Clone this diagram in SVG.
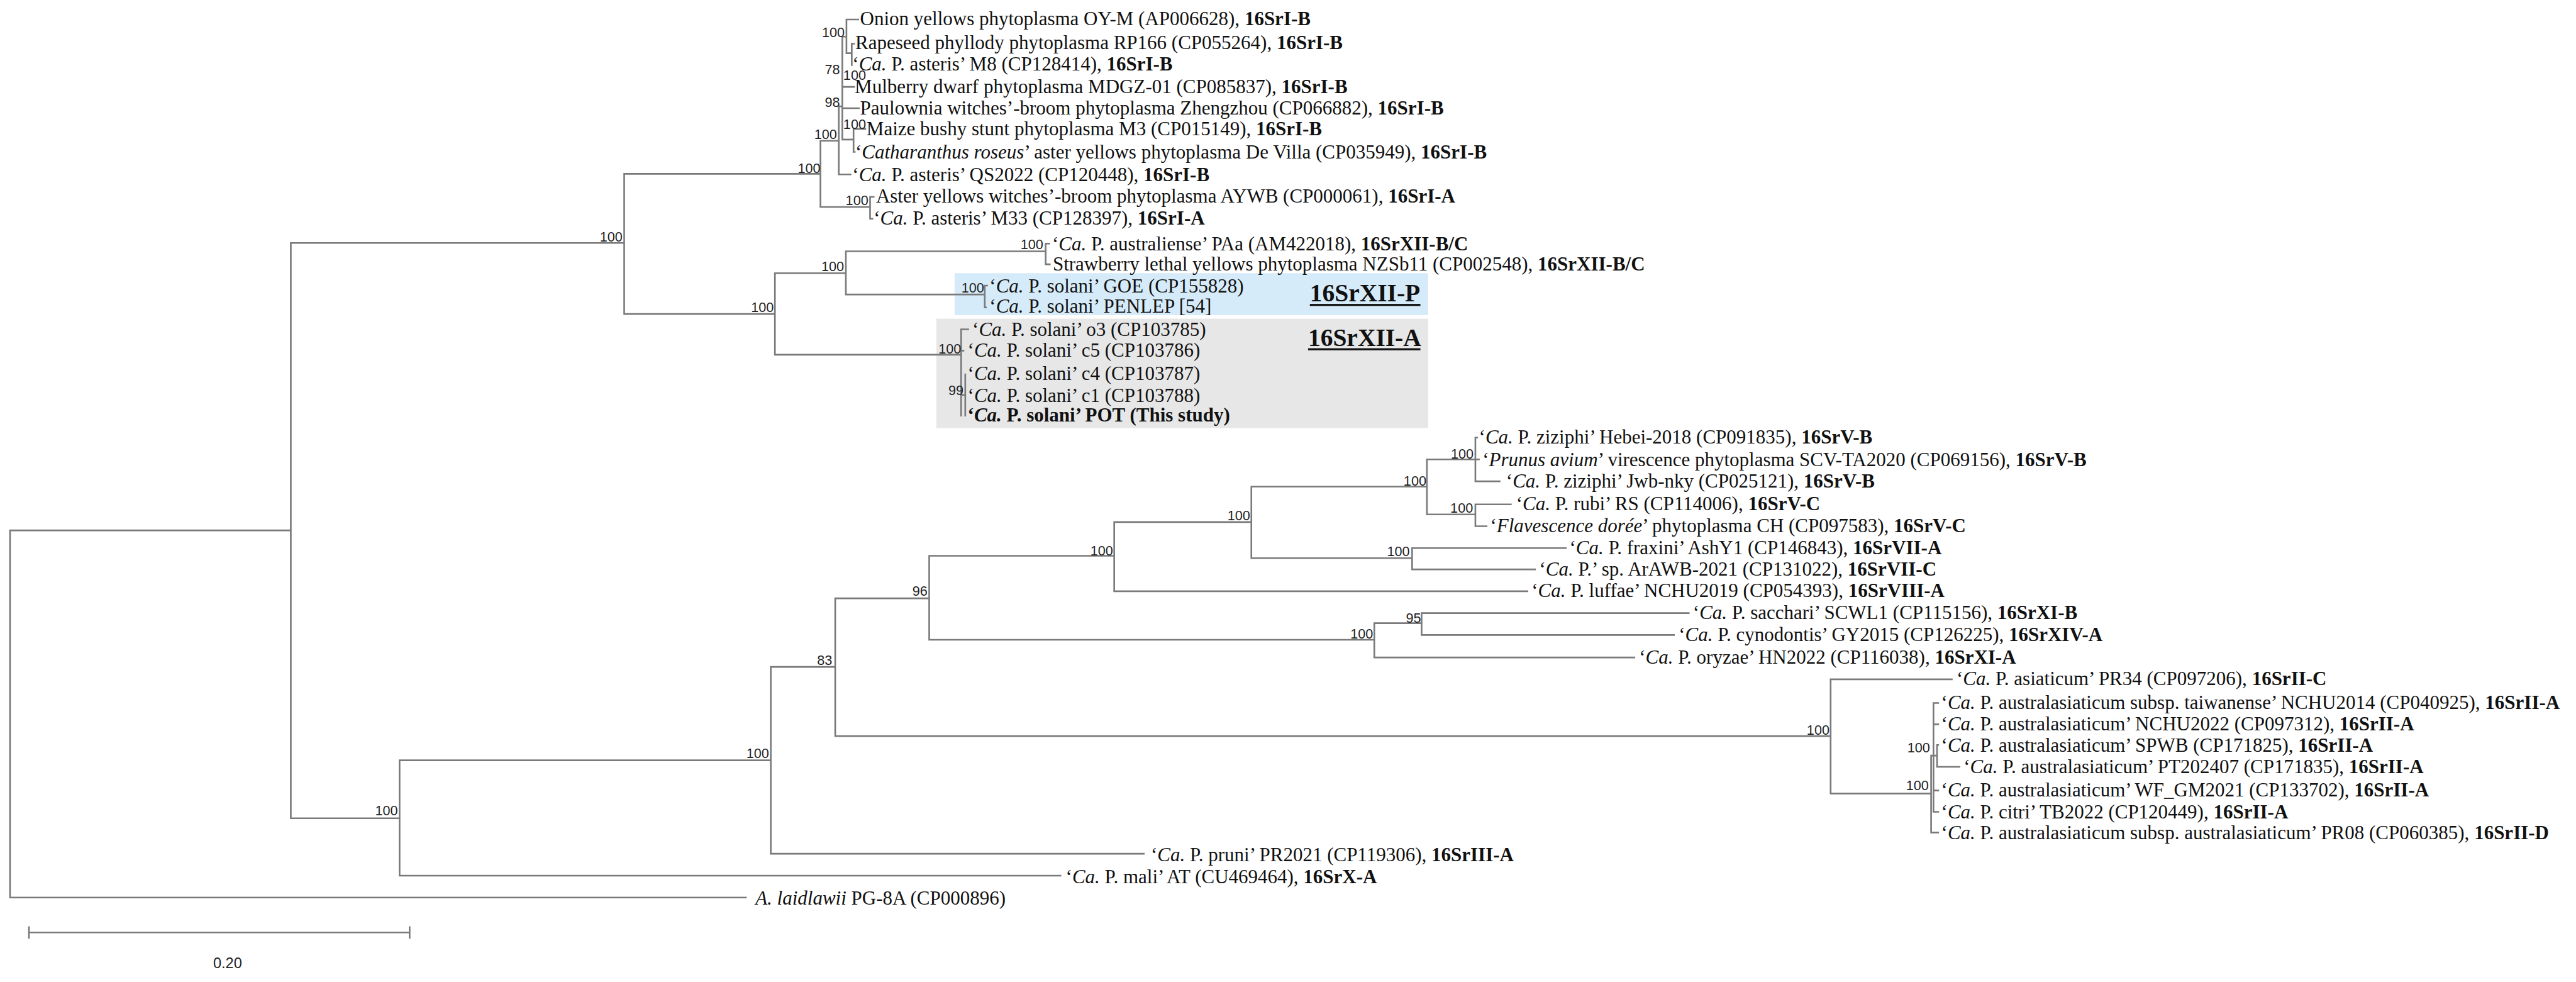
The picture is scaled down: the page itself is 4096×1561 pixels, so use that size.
<svg xmlns="http://www.w3.org/2000/svg" width="4096" height="1561" viewBox="0 0 4096 1561">
<style>
.br{fill:none;stroke:#7a7a7a;stroke-width:2.8;stroke-linecap:square}
.t{font-family:"Liberation Serif","Times New Roman",serif;font-size:33px;fill:#111}
.i{font-style:italic}
.b{font-weight:bold}
.bs{font-family:"Liberation Sans",Arial,sans-serif;font-size:23px;fill:#222;text-anchor:end}
.grp{font-family:"Liberation Serif","Times New Roman",serif;font-size:42px;font-weight:bold;fill:#111}
</style>
<rect width="4096" height="1561" fill="#fff"/>
<g transform="scale(0.93988)">
<g id="boxes">
<rect x="1615" y="462" width="801" height="71" fill="#d6ebf9"/>
<rect x="1584" y="539" width="832" height="185" fill="#e7e7e7"/>
</g>
<g id="connectors">
<path class="br" d="M17,897V1518M17,897H492M17,1518H1262
M492,411V1384M492,411H1056M492,1384H676
M1056,294V531M1056,294H1388M1056,531H1311
M1388,238V350M1388,238H1419M1388,350H1472
M1419,180V295M1419,180H1425M1419,295H1439
M1425,62V236M1425,62H1432M1425,147H1445M1425,183H1453M1425,236H1444
M1432,33V90M1432,33H1452M1432,90H1441
M1441,74V110M1441,74H1445
M1444,218V257M1444,218H1464M1444,257H1446
M1472,333V370M1472,333H1478M1472,370H1476
M1311,462V600M1311,462H1431M1311,600H1626
M1431,425V498M1431,425H1769M1431,498H1666
M1769,412V447M1769,412H1775M1769,447H1776
M1666,483V520M1666,483H1670M1666,520H1668
M1626,557V703M1626,557H1638M1626,593H1630M1626,668H1633
M1633,633V703
M676,1286V1481M676,1286H1304M676,1481H1794
M1304,1128V1444M1304,1128H1413M1304,1444H1935
M1413,1012V1245M1413,1012H1572M1413,1245H3097
M1572,940V1082M1572,940H1885M1572,1082H2325
M1885,883V1000M1885,883H2117M1885,1000H2584
M2117,823V944M2117,823H2414M2117,944H2389
M2414,777V870M2414,777H2496M2414,870H2496
M2496,740V814M2496,740H2499M2496,777H2502M2496,814H2537
M2496,853V890M2496,853H2556M2496,890H2515
M2389,927V963M2389,927H2649M2389,963H2597
M2325,1054V1112M2325,1054H2405M2325,1112H2765
M2405,1037V1074M2405,1037H2857M2405,1074H2832
M3097,1149V1342M3097,1149H3302M3097,1342H3267
M3267,1278V1408M3267,1278H3271M3267,1408H3279
M3271,1189V1373M3271,1189H3279M3271,1225H3279M3271,1278H3277M3271,1337H3279M3271,1373H3279
M3277,1260V1297M3277,1260H3279M3277,1297H3315"/>
</g>
<g id="scale-bar">
<path class="br" d="M49,1577H693M49,1568V1586M693,1568V1586"/>
<text class="bs" x="385" y="1637" style="text-anchor:middle;font-size:25px">0.20</text>
</g>
<g id="bootstrap">
<text class="bs" x="1429" y="63">100</text>
<text class="bs" x="1421" y="126">78</text>
<text class="bs" x="1465" y="135">100</text>
<text class="bs" x="1421" y="181">98</text>
<text class="bs" x="1465" y="218">100</text>
<text class="bs" x="1416" y="235">100</text>
<text class="bs" x="1388" y="293">100</text>
<text class="bs" x="1469" y="347">100</text>
<text class="bs" x="1053" y="409">100</text>
<text class="bs" x="1428" y="459">100</text>
<text class="bs" x="1765" y="421">100</text>
<text class="bs" x="1665" y="495">100</text>
<text class="bs" x="1309" y="528">100</text>
<text class="bs" x="1626" y="598">100</text>
<text class="bs" x="1630" y="668">99</text>
<text class="bs" x="673" y="1379">100</text>
<text class="bs" x="1301" y="1282">100</text>
<text class="bs" x="1408" y="1125">83</text>
<text class="bs" x="1569" y="1008">96</text>
<text class="bs" x="1883" y="940">100</text>
<text class="bs" x="2115" y="880">100</text>
<text class="bs" x="2413" y="821">100</text>
<text class="bs" x="2493" y="776">100</text>
<text class="bs" x="2492" y="867">100</text>
<text class="bs" x="2385" y="941">100</text>
<text class="bs" x="2323" y="1080">100</text>
<text class="bs" x="2404" y="1053">95</text>
<text class="bs" x="3095" y="1243">100</text>
<text class="bs" x="3263" y="1336">100</text>
<text class="bs" x="3265" y="1273">100</text>
</g>
<g id="group-labels">
<g id="g16SrXII-P"><text class="grp" x="2216" y="510">16SrXII-P</text><rect x="2216" y="514" width="187" height="3.5" fill="#111"/></g>
<g id="g16SrXII-A"><text class="grp" x="2213" y="585">16SrXII-A</text><rect x="2213" y="589" width="190" height="3.5" fill="#111"/></g>
</g>
<g id="tips">
<g id="t01"><text class="t" x="1455" y="43">Onion yellows phytoplasma OY-M (AP006628), <tspan class="b">16SrI-B</tspan></text></g>
<g id="t02"><text class="t" x="1447" y="83">Rapeseed phyllody phytoplasma RP166 (CP055264), <tspan class="b">16SrI-B</tspan></text></g>
<g id="t03"><text class="t" x="1442" y="119">‘<tspan class="i">Ca.</tspan> P. asteris’ M8 (CP128414), <tspan class="b">16SrI-B</tspan></text></g>
<g id="t04"><text class="t" x="1446" y="157">Mulberry dwarf phytoplasma MDGZ-01 (CP085837), <tspan class="b">16SrI-B</tspan></text></g>
<g id="t05"><text class="t" x="1455" y="194">Paulownia witches’-broom phytoplasma Zhengzhou (CP066882), <tspan class="b">16SrI-B</tspan></text></g>
<g id="t06"><text class="t" x="1466" y="229">Maize bushy stunt phytoplasma M3 (CP015149), <tspan class="b">16SrI-B</tspan></text></g>
<g id="t07"><text class="t" x="1447" y="268">‘<tspan class="i">Catharanthus roseus</tspan>’ aster yellows phytoplasma De Villa (CP035949), <tspan class="b">16SrI-B</tspan></text></g>
<g id="t08"><text class="t" x="1442" y="306">‘<tspan class="i">Ca.</tspan> P. asteris’ QS2022 (CP120448), <tspan class="b">16SrI-B</tspan></text></g>
<g id="t09"><text class="t" x="1482" y="343">Aster yellows witches’-broom phytoplasma AYWB (CP000061), <tspan class="b">16SrI-A</tspan></text></g>
<g id="t10"><text class="t" x="1478" y="380">‘<tspan class="i">Ca.</tspan> P. asteris’ M33 (CP128397), <tspan class="b">16SrI-A</tspan></text></g>
<g id="t11"><text class="t" x="1780" y="423">‘<tspan class="i">Ca.</tspan> P. australiense’ PAa (AM422018), <tspan class="b">16SrXII-B/C</tspan></text></g>
<g id="t12"><text class="t" x="1781" y="458">Strawberry lethal yellows phytoplasma NZSb11 (CP002548), <tspan class="b">16SrXII-B/C</tspan></text></g>
<g id="t13"><text class="t" x="1674" y="495">‘<tspan class="i">Ca.</tspan> P. solani’ GOE (CP155828)</text></g>
<g id="t14"><text class="t" x="1674" y="529">‘<tspan class="i">Ca.</tspan> P. solani’ PENLEP [54]</text></g>
<g id="t15"><text class="t" x="1645" y="568">‘<tspan class="i">Ca.</tspan> P. solani’ o3 (CP103785)</text></g>
<g id="t16"><text class="t" x="1637" y="603">‘<tspan class="i">Ca.</tspan> P. solani’ c5 (CP103786)</text></g>
<g id="t17"><text class="t" x="1637" y="643">‘<tspan class="i">Ca.</tspan> P. solani’ c4 (CP103787)</text></g>
<g id="t18"><text class="t" x="1637" y="680">‘<tspan class="i">Ca.</tspan> P. solani’ c1 (CP103788)</text></g>
<g id="t19"><text class="t b" x="1637" y="713">‘<tspan class="i">Ca.</tspan> P. solani’ POT (This study)</text></g>
<g id="t20"><text class="t" x="2502" y="750">‘<tspan class="i">Ca.</tspan> P. ziziphi’ Hebei-2018 (CP091835), <tspan class="b">16SrV-B</tspan></text></g>
<g id="t21"><text class="t" x="2508" y="788">‘<tspan class="i">Prunus avium</tspan>’ virescence phytoplasma SCV-TA2020 (CP069156), <tspan class="b">16SrV-B</tspan></text></g>
<g id="t22"><text class="t" x="2548" y="825">‘<tspan class="i">Ca.</tspan> P. ziziphi’ Jwb-nky (CP025121), <tspan class="b">16SrV-B</tspan></text></g>
<g id="t23"><text class="t" x="2565" y="863">‘<tspan class="i">Ca.</tspan> P. rubi’ RS (CP114006), <tspan class="b">16SrV-C</tspan></text></g>
<g id="t24"><text class="t" x="2521" y="900">‘<tspan class="i">Flavescence dorée</tspan>’ phytoplasma CH (CP097583), <tspan class="b">16SrV-C</tspan></text></g>
<g id="t25"><text class="t" x="2655" y="937">‘<tspan class="i">Ca.</tspan> P. fraxini’ AshY1 (CP146843), <tspan class="b">16SrVII-A</tspan></text></g>
<g id="t26"><text class="t" x="2604" y="973">‘<tspan class="i">Ca.</tspan> P.’ sp. ArAWB-2021 (CP131022), <tspan class="b">16SrVII-C</tspan></text></g>
<g id="t27"><text class="t" x="2591" y="1010">‘<tspan class="i">Ca.</tspan> P. luffae’ NCHU2019 (CP054393), <tspan class="b">16SrVIII-A</tspan></text></g>
<g id="t28"><text class="t" x="2864" y="1047">‘<tspan class="i">Ca.</tspan> P. sacchari’ SCWL1 (CP115156), <tspan class="b">16SrXI-B</tspan></text></g>
<g id="t29"><text class="t" x="2840" y="1084">‘<tspan class="i">Ca.</tspan> P. cynodontis’ GY2015 (CP126225), <tspan class="b">16SrXIV-A</tspan></text></g>
<g id="t30"><text class="t" x="2773" y="1122">‘<tspan class="i">Ca.</tspan> P. oryzae’ HN2022 (CP116038), <tspan class="b">16SrXI-A</tspan></text></g>
<g id="t31"><text class="t" x="3310" y="1159">‘<tspan class="i">Ca.</tspan> P. asiaticum’ PR34 (CP097206), <tspan class="b">16SrII-C</tspan></text></g>
<g id="t32"><text class="t" x="3284" y="1199">‘<tspan class="i">Ca.</tspan> P. australasiaticum subsp. taiwanense’ NCHU2014 (CP040925), <tspan class="b">16SrII-A</tspan></text></g>
<g id="t33"><text class="t" x="3284" y="1235">‘<tspan class="i">Ca.</tspan> P. australasiaticum’ NCHU2022 (CP097312), <tspan class="b">16SrII-A</tspan></text></g>
<g id="t34"><text class="t" x="3284" y="1271">‘<tspan class="i">Ca.</tspan> P. australasiaticum’ SPWB (CP171825), <tspan class="b">16SrII-A</tspan></text></g>
<g id="t35"><text class="t" x="3322" y="1308">‘<tspan class="i">Ca.</tspan> P. australasiaticum’ PT202407 (CP171835), <tspan class="b">16SrII-A</tspan></text></g>
<g id="t36"><text class="t" x="3284" y="1347">‘<tspan class="i">Ca.</tspan> P. australasiaticum’ WF_GM2021 (CP133702), <tspan class="b">16SrII-A</tspan></text></g>
<g id="t37"><text class="t" x="3284" y="1384">‘<tspan class="i">Ca.</tspan> P. citri’ TB2022 (CP120449), <tspan class="b">16SrII-A</tspan></text></g>
<g id="t38"><text class="t" x="3284" y="1419">‘<tspan class="i">Ca.</tspan> P. australasiaticum subsp. australasiaticum’ PR08 (CP060385), <tspan class="b">16SrII-D</tspan></text></g>
<g id="t39"><text class="t" x="1947" y="1457">‘<tspan class="i">Ca.</tspan> P. pruni’ PR2021 (CP119306), <tspan class="b">16SrIII-A</tspan></text></g>
<g id="t40"><text class="t" x="1803" y="1494">‘<tspan class="i">Ca.</tspan> P. mali’ AT (CU469464), <tspan class="b">16SrX-A</tspan></text></g>
<g id="t41"><text class="t" x="1278" y="1530"><tspan class="i">A. laidlawii</tspan> PG-8A (CP000896)</text></g>
</g>
</g>
</svg>
